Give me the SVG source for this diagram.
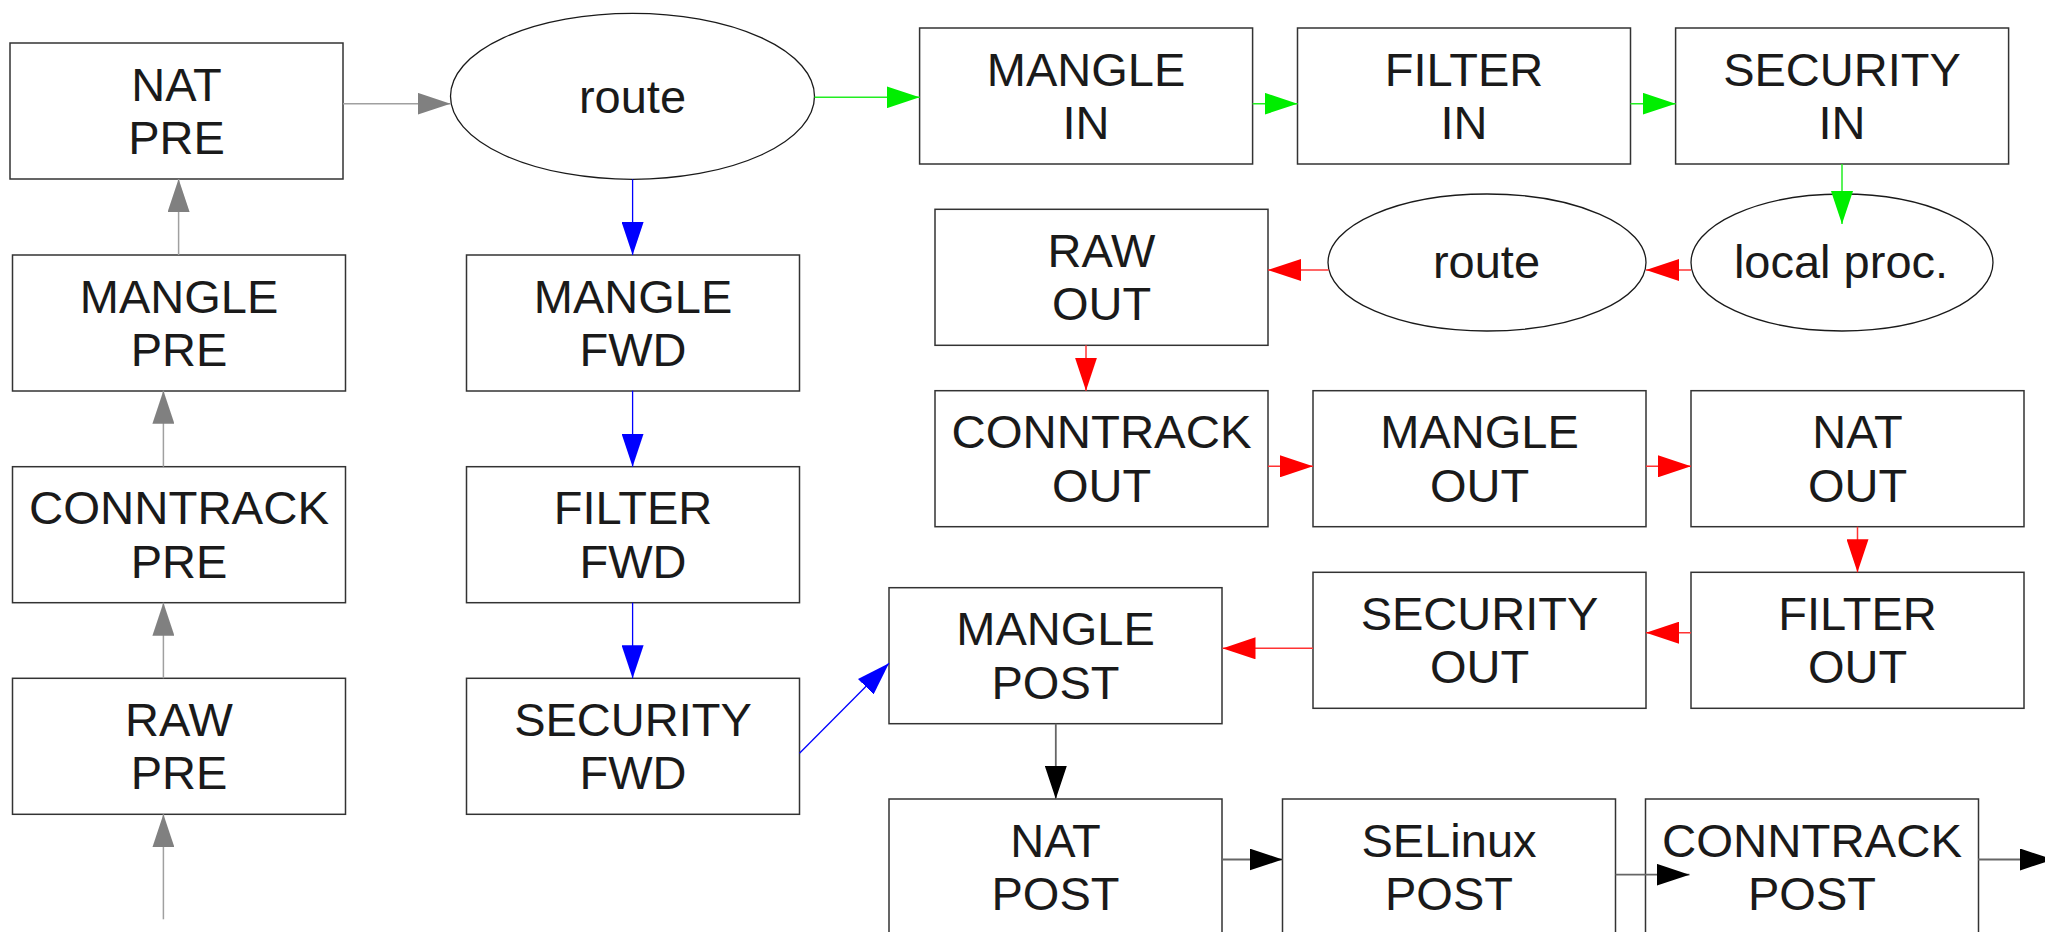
<svg xmlns="http://www.w3.org/2000/svg" width="2045" height="932" viewBox="0 0 2045 932">
  <style>
    .box { fill: #ffffff; stroke: #333333; stroke-width: 1.5; }
    .oval { fill: #ffffff; stroke: #1a1a1a; stroke-width: 1.3; }
    .lbl { font-family: "Liberation Sans", Arial, sans-serif; font-size: 47px; fill: #1a1a1a; text-anchor: middle; }
    .gray { stroke: #a0a0a0; stroke-width: 1.5; fill: none; marker-end: url(#hGray); }
    .blue { stroke: #0000ff; stroke-width: 1.3; fill: none; marker-end: url(#hBlue); }
    .green { stroke: #22ee22; stroke-width: 1.5; fill: none; marker-end: url(#hGreen); }
    .red { stroke: #ff3333; stroke-width: 1.5; fill: none; marker-end: url(#hRed); }
    .black { stroke: #666666; stroke-width: 1.8; fill: none; marker-end: url(#hBlack); }
  </style>
  <defs>
    <marker id="hGray" markerUnits="userSpaceOnUse" markerWidth="33" markerHeight="22" refX="33" refY="11" orient="auto">
      <path d="M0,0 L33,11 L0,22 Z" fill="#808080"/>
    </marker>
    <marker id="hBlue" markerUnits="userSpaceOnUse" markerWidth="33" markerHeight="22" refX="33" refY="11" orient="auto">
      <path d="M0,0 L33,11 L0,22 Z" fill="#0000ff"/>
    </marker>
    <marker id="hGreen" markerUnits="userSpaceOnUse" markerWidth="33" markerHeight="22" refX="33" refY="11" orient="auto">
      <path d="M0,0 L33,11 L0,22 Z" fill="#00ee00"/>
    </marker>
    <marker id="hRed" markerUnits="userSpaceOnUse" markerWidth="33" markerHeight="22" refX="33" refY="11" orient="auto">
      <path d="M0,0 L33,11 L0,22 Z" fill="#ff0000"/>
    </marker>
    <marker id="hBlack" markerUnits="userSpaceOnUse" markerWidth="33" markerHeight="22" refX="33" refY="11" orient="auto">
      <path d="M0,0 L33,11 L0,22 Z" fill="#000000"/>
    </marker>
  </defs>
  <rect width="2045" height="932" fill="#ffffff"/>

  <!-- PREROUTING column -->
  <g id="nat-pre"><rect class="box" x="10" y="43" width="333" height="136"/><text class="lbl" x="176.5" y="100.5">NAT</text><text class="lbl" x="176.5" y="154">PRE</text></g>
  <g id="mangle-pre"><rect class="box" x="12.5" y="255" width="333" height="136"/><text class="lbl" x="179" y="312.5">MANGLE</text><text class="lbl" x="179" y="366">PRE</text></g>
  <g id="conntrack-pre"><rect class="box" x="12.5" y="466.7" width="333" height="136"/><text class="lbl" x="179" y="524" textLength="300" lengthAdjust="spacingAndGlyphs">CONNTRACK</text><text class="lbl" x="179" y="577.5">PRE</text></g>
  <g id="raw-pre"><rect class="box" x="12.5" y="678.3" width="333" height="136"/><text class="lbl" x="179" y="735.5">RAW</text><text class="lbl" x="179" y="789">PRE</text></g>

  <!-- FORWARD column -->
  <g id="route-1"><ellipse class="oval" cx="632.5" cy="96.3" rx="182" ry="83"/><text class="lbl" x="632.5" y="112.5">route</text></g>
  <g id="mangle-fwd"><rect class="box" x="466.5" y="255" width="333" height="136"/><text class="lbl" x="633" y="312.5">MANGLE</text><text class="lbl" x="633" y="366">FWD</text></g>
  <g id="filter-fwd"><rect class="box" x="466.5" y="466.7" width="333" height="136"/><text class="lbl" x="633" y="524">FILTER</text><text class="lbl" x="633" y="577.5">FWD</text></g>
  <g id="security-fwd"><rect class="box" x="466.5" y="678.3" width="333" height="136"/><text class="lbl" x="633" y="735.5">SECURITY</text><text class="lbl" x="633" y="789">FWD</text></g>

  <!-- INPUT row -->
  <g id="mangle-in"><rect class="box" x="919.6" y="28" width="333" height="136"/><text class="lbl" x="1086" y="85.5">MANGLE</text><text class="lbl" x="1086" y="139">IN</text></g>
  <g id="filter-in"><rect class="box" x="1297.5" y="28" width="333" height="136"/><text class="lbl" x="1464" y="85.5">FILTER</text><text class="lbl" x="1464" y="139">IN</text></g>
  <g id="security-in"><rect class="box" x="1675.6" y="28" width="333" height="136"/><text class="lbl" x="1842" y="85.5">SECURITY</text><text class="lbl" x="1842" y="139">IN</text></g>

  <!-- local process and OUTPUT -->
  <g id="local-proc"><ellipse class="oval" cx="1842" cy="262.5" rx="151" ry="68.5"/><text class="lbl" x="1841" y="277.5">local proc.</text></g>
  <g id="route-2"><ellipse class="oval" cx="1487" cy="262.5" rx="159" ry="68.5"/><text class="lbl" x="1486.5" y="277.5">route</text></g>
  <g id="raw-out"><rect class="box" x="935" y="209.3" width="333" height="136"/><text class="lbl" x="1101.5" y="266.5">RAW</text><text class="lbl" x="1101.5" y="320">OUT</text></g>
  <g id="conntrack-out"><rect class="box" x="935" y="390.7" width="333" height="136"/><text class="lbl" x="1101.5" y="448" textLength="300" lengthAdjust="spacingAndGlyphs">CONNTRACK</text><text class="lbl" x="1101.5" y="501.5">OUT</text></g>
  <g id="mangle-out"><rect class="box" x="1313" y="390.7" width="333" height="136"/><text class="lbl" x="1479.5" y="448">MANGLE</text><text class="lbl" x="1479.5" y="501.5">OUT</text></g>
  <g id="nat-out"><rect class="box" x="1691" y="390.7" width="333" height="136"/><text class="lbl" x="1857.5" y="448">NAT</text><text class="lbl" x="1857.5" y="501.5">OUT</text></g>
  <g id="filter-out"><rect class="box" x="1691" y="572.3" width="333" height="136"/><text class="lbl" x="1857.5" y="629.5">FILTER</text><text class="lbl" x="1857.5" y="683">OUT</text></g>
  <g id="security-out"><rect class="box" x="1313" y="572.3" width="333" height="136"/><text class="lbl" x="1479.5" y="629.5">SECURITY</text><text class="lbl" x="1479.5" y="683">OUT</text></g>

  <!-- POSTROUTING -->
  <g id="mangle-post"><rect class="box" x="889" y="587.7" width="333" height="136"/><text class="lbl" x="1055.5" y="645">MANGLE</text><text class="lbl" x="1055.5" y="698.5">POST</text></g>
  <g id="nat-post"><rect class="box" x="889" y="799" width="333" height="136"/><text class="lbl" x="1055.5" y="856.5">NAT</text><text class="lbl" x="1055.5" y="910">POST</text></g>
  <g id="selinux-post"><rect class="box" x="1282.5" y="799" width="333" height="136"/><text class="lbl" x="1449" y="856.5">SELinux</text><text class="lbl" x="1449" y="910">POST</text></g>
  <g id="conntrack-post"><rect class="box" x="1645.5" y="799" width="333" height="136"/><text class="lbl" x="1812" y="856.5" textLength="300" lengthAdjust="spacingAndGlyphs">CONNTRACK</text><text class="lbl" x="1812" y="910">POST</text></g>

  <!-- connectors -->
  <g id="connectors">
    <line class="gray" x1="163.4" y1="919.3" x2="163.4" y2="814.3"/>
    <line class="gray" x1="163.4" y1="678.3" x2="163.4" y2="602.7"/>
    <line class="gray" x1="163.4" y1="466.7" x2="163.4" y2="390.7"/>
    <line class="gray" x1="178.6" y1="255" x2="178.6" y2="179"/>
    <line class="gray" x1="343" y1="103.7" x2="450.5" y2="103.7"/>

    <line class="blue" x1="632.6" y1="179.3" x2="632.6" y2="255"/>
    <line class="blue" x1="632.6" y1="390.7" x2="632.6" y2="466.7"/>
    <line class="blue" x1="632.6" y1="602.7" x2="632.6" y2="678.3"/>
    <line class="blue" x1="799.5" y1="753.3" x2="889" y2="663.3"/>

    <line class="green" x1="814.5" y1="97.3" x2="919.6" y2="97.3"/>
    <line class="green" x1="1252.6" y1="103.7" x2="1297.5" y2="103.7"/>
    <line class="green" x1="1630.5" y1="103.7" x2="1675.6" y2="103.7"/>
    <line class="green" x1="1842" y1="164" x2="1842" y2="224"/>

    <line class="red" x1="1691" y1="270" x2="1646" y2="270"/>
    <line class="red" x1="1328.6" y1="270" x2="1268" y2="270"/>
    <line class="red" x1="1086" y1="345.3" x2="1086" y2="390.7"/>
    <line class="red" x1="1268" y1="466.3" x2="1313" y2="466.3"/>
    <line class="red" x1="1646" y1="466.3" x2="1691" y2="466.3"/>
    <line class="red" x1="1857.5" y1="526.7" x2="1857.5" y2="572.3"/>
    <line class="red" x1="1691" y1="632.7" x2="1646" y2="632.7"/>
    <line class="red" x1="1313" y1="648.3" x2="1222.5" y2="648.3"/>

    <line class="black" x1="1055.8" y1="723.7" x2="1055.8" y2="799"/>
    <line class="black" x1="1222" y1="859.5" x2="1282.5" y2="859.5"/>
    <line class="black" x1="1615.5" y1="874.7" x2="1689.5" y2="874.7"/>
    <line class="black" x1="1978" y1="859.5" x2="2053" y2="859.5"/>
  </g>
</svg>
